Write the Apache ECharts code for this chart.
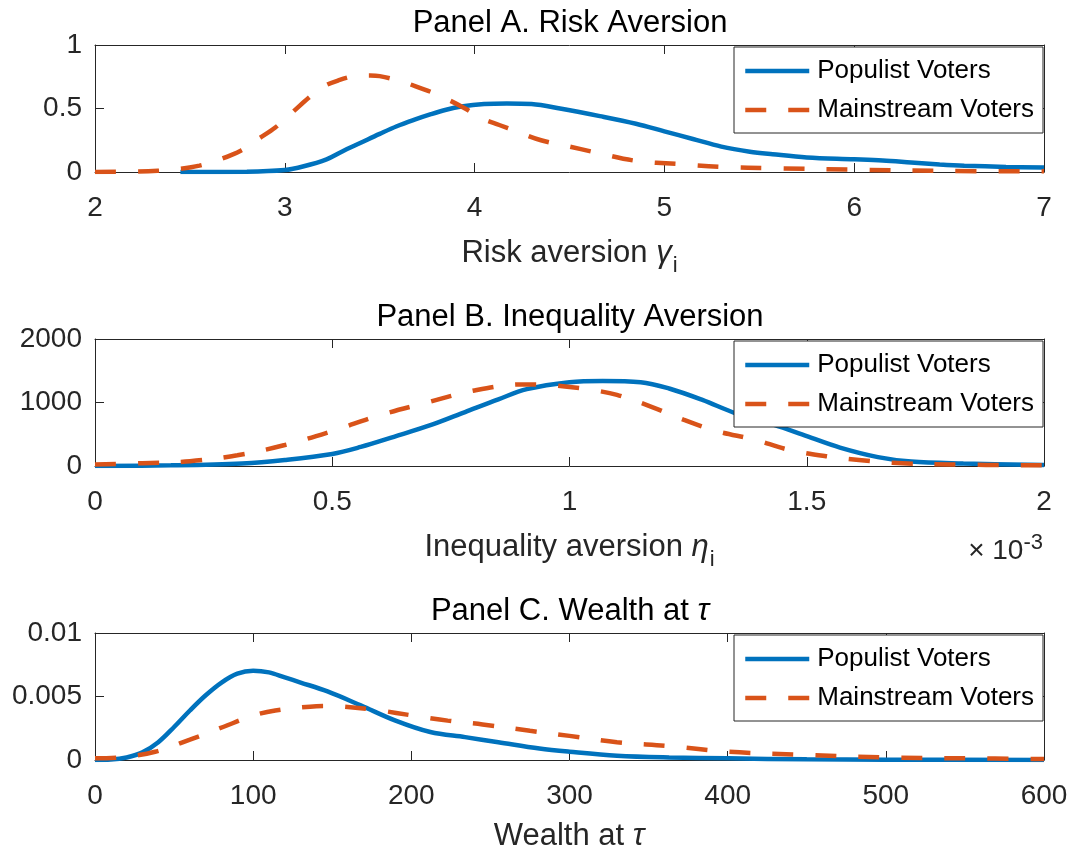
<!DOCTYPE html>
<html><head><meta charset="utf-8">
<script src="https://cdn.jsdelivr.net/npm/echarts@6/dist/echarts.min.js"></script>
<style>html,body{margin:0;padding:0;background:#fff}#c{width:1073px;height:855px}</style>
</head><body><div id="c"></div>
<script>
// ---- Panel A: risk aversion ----
const aPopX = [2.45, 2.8, 3.0, 3.1, 3.22, 3.3, 3.4, 3.5, 3.59, 3.68, 3.77, 3.85, 3.93, 4.05, 4.17, 4.3, 4.45, 4.66, 4.85, 5.0, 5.15, 5.3, 5.45, 5.57, 5.75, 6.0, 6.15, 6.3, 6.45, 6.58, 6.8, 7.0];
const aPopY = [0, 0.002, 0.015, 0.045, 0.10, 0.16, 0.23, 0.30, 0.36, 0.41, 0.455, 0.49, 0.515, 0.535, 0.54, 0.535, 0.50, 0.44, 0.38, 0.32, 0.26, 0.20, 0.16, 0.14, 0.115, 0.10, 0.09, 0.075, 0.06, 0.05, 0.04, 0.035];
const aMainX = [2.0, 2.2, 2.33, 2.45, 2.55, 2.66, 2.77, 2.86, 2.95, 3.04, 3.13, 3.2, 3.28, 3.37, 3.45, 3.5, 3.6, 3.68, 3.77, 3.86, 3.95, 4.04, 4.13, 4.22, 4.35, 4.5, 4.62, 4.84, 5.08, 5.31, 5.57, 6.0, 6.48, 7.0];
const aMainY = [0, 0.003, 0.01, 0.025, 0.05, 0.1, 0.17, 0.26, 0.35, 0.47, 0.59, 0.67, 0.72, 0.755, 0.76, 0.755, 0.72, 0.68, 0.63, 0.57, 0.5, 0.42, 0.37, 0.32, 0.25, 0.2, 0.16, 0.09, 0.062, 0.04, 0.03, 0.018, 0.008, 0.005];
// ---- Panel B: inequality aversion (x in units of 1e-3) ----
const bPopX = [0, 0.16, 0.31, 0.4, 0.5, 0.56, 0.63, 0.71, 0.78, 0.85, 0.91, 1.0, 1.07, 1.15, 1.21, 1.28, 1.35, 1.43, 1.5, 1.57, 1.65, 1.72, 1.83, 2.0];
const bPopY = [0, 10, 40, 95, 190, 300, 460, 650, 850, 1050, 1210, 1320, 1340, 1320, 1220, 1040, 830, 650, 470, 290, 140, 70, 40, 15];
const bMainX = [0, 0.1, 0.2, 0.3, 0.4, 0.5, 0.6, 0.7, 0.8, 0.9, 0.95, 1.0, 1.05, 1.1, 1.17, 1.24, 1.31, 1.39, 1.46, 1.54, 1.61, 1.68, 1.8, 2.0];
const bMainY = [25, 45, 75, 170, 330, 550, 800, 1000, 1190, 1285, 1280, 1245, 1195, 1120, 940, 730, 550, 415, 260, 155, 95, 50, 25, 10];
// ---- Panel C: wealth at tau ----
const cPopX = [0, 10, 20, 30, 40, 50, 60, 70, 80, 90, 100, 110, 120, 130, 147, 168, 190, 212, 234, 255, 281, 300, 330, 363, 400, 450, 500, 600];
const cPopY = [0, 0.00003, 0.0002, 0.0006, 0.0014, 0.0026, 0.0039, 0.0051, 0.0061, 0.0068, 0.00703, 0.0069, 0.0065, 0.0061, 0.0054, 0.0043, 0.0031, 0.0022, 0.0018, 0.0014, 0.0009, 0.00065, 0.00034, 0.0002, 0.00013, 0.00005, 0.00002, 0];
const cMainX = [0, 16, 38, 60, 81, 100, 114, 136, 147, 158, 180, 201, 223, 245, 275, 300, 330, 363, 400, 450, 500, 549, 600];
const cMainY = [0.00013, 0.0002, 0.00065, 0.0016, 0.0026, 0.0035, 0.0039, 0.0042, 0.00425, 0.0042, 0.0039, 0.0035, 0.0031, 0.0028, 0.0023, 0.0019, 0.0014, 0.0011, 0.00065, 0.0004, 0.0002, 0.00013, 0.00008];

const seriesNames = ['Populist Voters', 'Mainstream Voters'];
const panelTitles = ['Panel A. Risk Aversion', 'Panel B. Inequality Aversion', '{n|Panel C. Wealth at }{g|τ}'];
const xNames = ['{n|Risk aversion }{g|γ}{s|i}', '{n|Inequality aversion }{g|η}{s|i}', '{n|Wealth at }{g|τ}'];
const xRanges = [[2, 7, 1], [0, 2, 0.5], [0, 600, 100]];
const yRanges = [[0, 1, 0.5], [0, 2000, 1000], [0, 0.01, 0.005]];

const FONT = '"Liberation Sans", Arial, Helvetica, sans-serif';
const INK = '#262626';
const BLUE = '#0072BD', RED = '#D95319';
const tops = [45, 339, 633];
const H = 127;
const L = 95, R = 29;
const SUB = 13;

const rich = {
  n: {fontSize: 31, fontFamily: FONT, color: INK, lineHeight: 31, padding: [0, 0, SUB, 0]},
  g: {fontSize: 31, fontFamily: FONT, color: INK, fontStyle: 'italic', lineHeight: 31, padding: [0, 1, SUB, 0]},
  s: {fontSize: 22, fontFamily: FONT, color: INK, lineHeight: 22, padding: [SUB, 0, 0, 0]}
};
const titleRich = {
  n: {fontSize: 31, fontFamily: FONT, color: '#000'},
  g: {fontSize: 31, fontFamily: FONT, color: '#000', fontStyle: 'italic'}
};
const plain = v => String(v);

const grids = [], xAxes = [], yAxes = [], series = [], legends = [], titles = [];
const nameGaps = [72, 72, 67];
for (let p = 0; p < 3; p++) {
  grids.push({left: L, right: R, top: tops[p], height: H, containLabel: false, outerBoundsMode: 'none'});
  const [xmin, xmax, xint] = xRanges[p];
  const [ymin, ymax, yint] = yRanges[p];
  const line = {show: true, onZero: false, lineStyle: {color: INK, width: 1}};
  const tick = {inside: true, length: 9, lineStyle: {color: INK}};
  xAxes.push({
    type: 'value', gridIndex: p, min: xmin, max: xmax, interval: xint, position: 'bottom',
    axisLine: line, splitLine: {show: false}, axisTick: tick,
    axisLabel: {color: INK, fontSize: 28, fontFamily: FONT, margin: 22, formatter: plain},
    name: xNames[p], nameLocation: 'middle', nameGap: nameGaps[p],
    nameTextStyle: {rich: rich, fontSize: 31, fontFamily: FONT, color: INK}
  });
  xAxes.push({
    type: 'value', gridIndex: p, min: xmin, max: xmax, interval: xint, position: 'top',
    axisLine: line, splitLine: {show: false}, axisTick: tick, axisLabel: {show: false}
  });
  yAxes.push({
    type: 'value', gridIndex: p, min: ymin, max: ymax, interval: yint, position: 'left',
    axisLine: line, splitLine: {show: false}, axisTick: tick,
    axisLabel: {color: INK, fontSize: 28, fontFamily: FONT, margin: 13, formatter: plain}
  });
  yAxes.push({
    type: 'value', gridIndex: p, min: ymin, max: ymax, interval: yint, position: 'right',
    axisLine: line, splitLine: {show: false}, axisTick: tick, axisLabel: {show: false}
  });
  titles.push({
    text: panelTitles[p], left: 570, top: tops[p] - 37, textAlign: 'center', padding: 0,
    textStyle: {fontSize: 31, fontWeight: 'normal', fontFamily: FONT, color: '#000', rich: titleRich}
  });
  legends.push({
    data: seriesNames, orient: 'vertical', right: 30, top: tops[p] + 2,
    padding: [11, 9, 10, 9], itemGap: 13, itemWidth: 64, itemHeight: 14,
    backgroundColor: '#fff', borderColor: INK, borderWidth: 1, borderRadius: 0,
    selectedMode: false,
    itemStyle: {opacity: 0, borderWidth: 0},
    lineStyle: {width: 4.5},
    textStyle: {fontSize: 26, fontFamily: FONT, color: '#000', lineHeight: 26, padding: [0, 0, 0, 3]}
  });
}
titles.push({
  text: '× 10{sup|-3}', left: 1043, top: 532, textAlign: 'right', padding: 0,
  textStyle: {fontSize: 28, fontWeight: 'normal', fontFamily: FONT, color: INK,
    rich: {sup: {fontSize: 22, fontFamily: FONT, color: INK, padding: [0, 0, 16, 0]}}}
});

const sets = [[aPopX, aPopY, aMainX, aMainY], [bPopX, bPopY, bMainX, bMainY], [cPopX, cPopY, cMainX, cMainY]];
for (let p = 0; p < 3; p++) {
  const [px, py, mx, my] = sets[p];
  series.push({
    name: seriesNames[0], type: 'line', xAxisIndex: 2 * p, yAxisIndex: 2 * p,
    data: px.map((x, i) => [x, py[i]]), smooth: 0.35, showSymbol: false, symbol: 'none',
    lineStyle: {color: BLUE, width: 4.5}, itemStyle: {color: BLUE}
  });
  series.push({
    name: seriesNames[1], type: 'line', xAxisIndex: 2 * p, yAxisIndex: 2 * p,
    data: mx.map((x, i) => [x, my[i]]), smooth: 0.35, showSymbol: false, symbol: 'none',
    lineStyle: {color: RED, width: 4.5, type: [21, 22]}, itemStyle: {color: RED}
  });
}

const chart = echarts.init(document.getElementById('c'), null, {renderer: 'canvas'});
chart.setOption({
  animation: false,
  backgroundColor: '#fff',
  title: titles,
  legend: legends,
  grid: grids,
  xAxis: xAxes,
  yAxis: yAxes,
  series: series
});
</script>
</body></html>
